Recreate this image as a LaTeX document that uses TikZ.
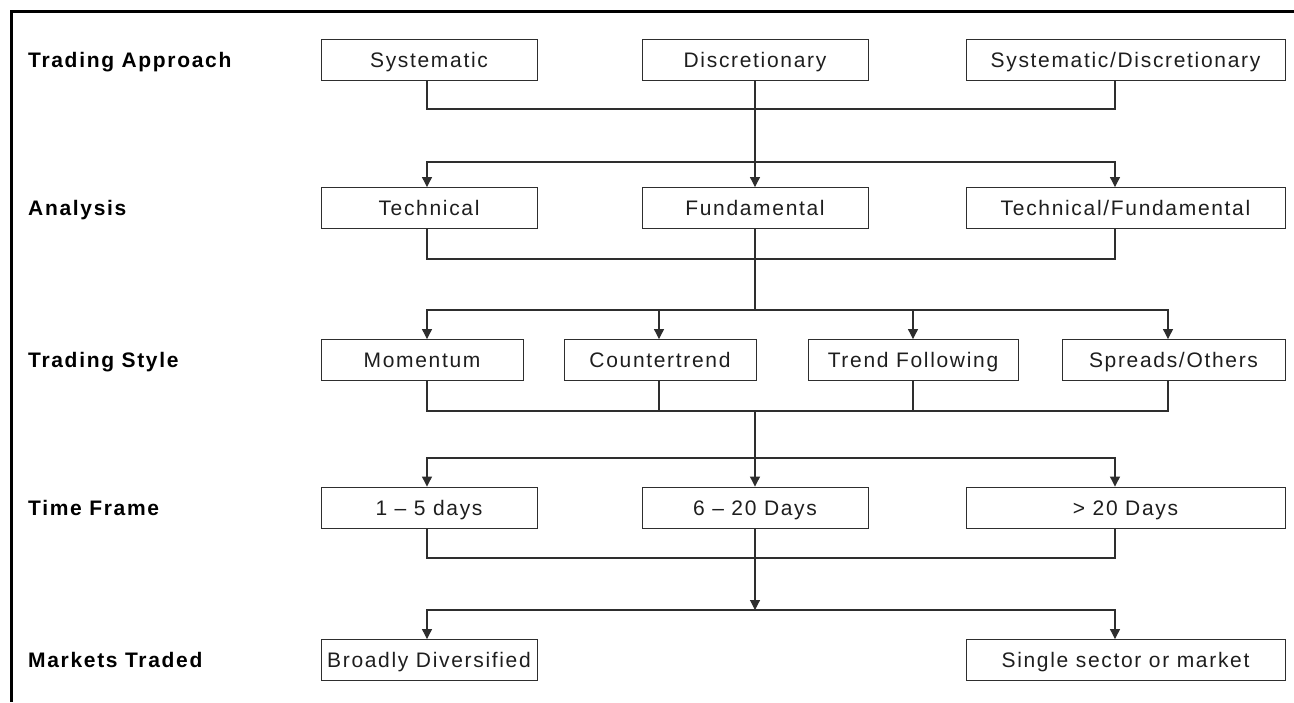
\documentclass[tikz,border=0pt]{standalone}
\usepackage{fontspec}
\setmainfont{Liberation Sans}[LetterSpace=8]
\usetikzlibrary{arrows.meta}
\definecolor{linegray}{HTML}{2E2E2E}
\definecolor{textgray}{HTML}{1E1E1E}

\begin{document}
\begin{tikzpicture}[
    x=1pt, y=-1pt,
    box/.style={draw=linegray, line width=0.9pt, fill=white, minimum height=41pt, inner sep=0pt, text height=15pt, text depth=0pt, text=textgray, font=\fontsize{21}{25}\selectfont},
    lvl/.style={anchor=base west, inner sep=0pt, font=\fontsize{21}{25}\selectfont\bfseries},
    link/.style={draw=linegray, line width=1.1pt},
    arrow/.style={link, -{Triangle[length=10pt, width=10pt]}},
]
\useasboundingbox (0,0) rectangle (1294,702);
\fill[white] (0,0) rectangle (1294,702);
\draw[line width=3pt] (1294,11) -- (11,11) -- (11,702);

% level labels
\node[lvl] (lapp) at (28,67) {Trading Approach};
\node[lvl] (lana) at (28,215.5) {Analysis};
\node[lvl] (lsty) at (28,367.5) {Trading Style};
\node[lvl] (ltim) at (28,515) {Time Frame};
\node[lvl] (lmkt) at (28,667.5) {Markets Traded};

% boxes
\node[box, minimum width=216pt] (sys) at (429,59.5) {Systematic};
\node[box, minimum width=226pt] (disc) at (755,59.5) {Discretionary};
\node[box, minimum width=319pt] (sd) at (1125.5,59.5) {Systematic/Discretionary};

\node[box, minimum width=216pt] (tech) at (429,208) {Technical};
\node[box, minimum width=226pt] (fund) at (755,208) {Fundamental};
\node[box, minimum width=319pt] (tf) at (1125.5,208) {Technical/Fundamental};

\node[box, minimum width=202pt] (mom) at (422,360) {Momentum};
\node[box, minimum width=192pt] (ctr) at (660,360) {Countertrend};
\node[box, minimum width=210pt] (trf) at (913,360) {Trend Following};
\node[box, minimum width=223pt] (spr) at (1173.5,360) {Spreads/Others};

\node[box, minimum width=216pt] (d15) at (429,507.5) {1 -- 5 days};
\node[box, minimum width=226pt] (d620) at (755,507.5) {6 -- 20 Days};
\node[box, minimum width=319pt] (d20) at (1125.5,507.5) {> 20 Days};

\node[box, minimum width=216pt] (bd) at (429,660) {Broadly Diversified};
\node[box, minimum width=319pt] (ss) at (1125.5,660) {Single sector or market};

% junctions
\coordinate (j1) at (755,109);
\coordinate (h1) at (755,162);
\coordinate (j2) at (755,259);
\coordinate (h2) at (755,310);
\coordinate (j3) at (755,411);
\coordinate (h3) at (755,458);
\coordinate (j4) at (755,558);
\coordinate (h4) at (755,610);

% trading approach -> analysis
\draw[link] ([xshift=-2pt]sys.south) |- (j1) -| ([xshift=-10.5pt]sd.south);
\draw[link] (disc) -- (h1);
\draw[arrow] (h1) -| ([xshift=-2pt]tech.north);
\draw[arrow] (h1) -- (fund);
\draw[arrow] (h1) -| ([xshift=-10.5pt]tf.north);

% analysis -> trading style
\draw[link] ([xshift=-2pt]tech.south) |- (j2) -| ([xshift=-10.5pt]tf.south);
\draw[link] (fund) -- (h2);
\draw[arrow] (h2) -| ([xshift=5pt]mom.north);
\draw[arrow] (h2) -| ([xshift=-1pt]ctr.north);
\draw[arrow] (h2) -| (trf.north);
\draw[arrow] (h2) -| ([xshift=-5.5pt]spr.north);

% trading style -> time frame
\draw[link] ([xshift=5pt]mom.south) |- (j3) -| ([xshift=-5.5pt]spr.south);
\draw[link] ([xshift=-1pt]ctr.south) |- (j3);
\draw[link] (trf.south) |- (j3);
\draw[link] (j3) -- (h3);
\draw[arrow] (h3) -| ([xshift=-2pt]d15.north);
\draw[arrow] (h3) -- (d620);
\draw[arrow] (h3) -| ([xshift=-10.5pt]d20.north);

% time frame -> markets traded
\draw[link] ([xshift=-2pt]d15.south) |- (j4) -| ([xshift=-10.5pt]d20.south);
\draw[arrow] (d620) -- (h4);
\draw[arrow] (h4) -| ([xshift=-2pt]bd.north);
\draw[arrow] (h4) -| ([xshift=-10.5pt]ss.north);
\end{tikzpicture}
\end{document}
